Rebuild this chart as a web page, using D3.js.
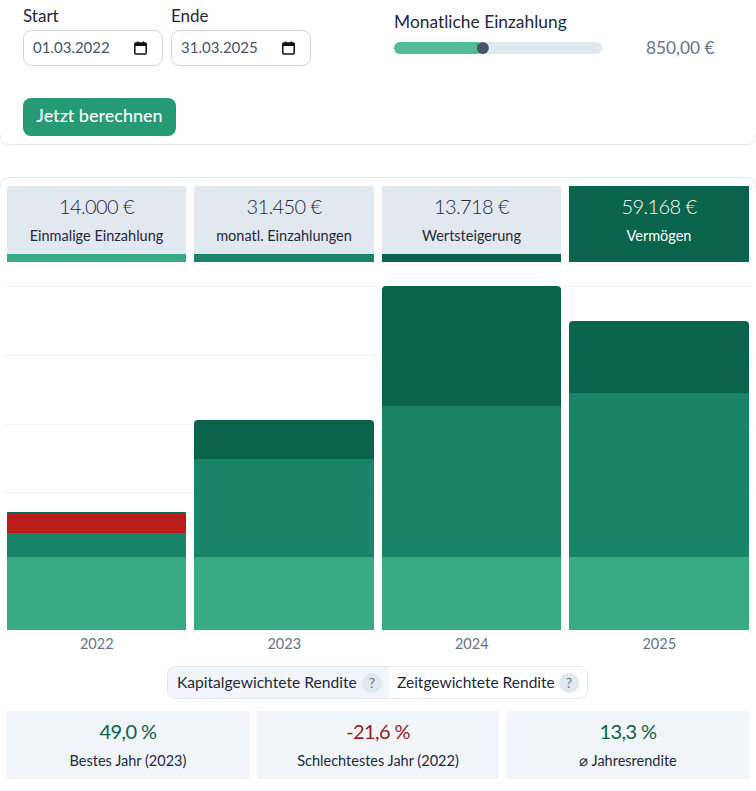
<!DOCTYPE html>
<html>
<head>
<meta charset="utf-8">
<script src="https://cdn.jsdelivr.net/npm/d3@7"></script>
<style>
    html, body { margin: 0; padding: 0; background: #fff; }
    svg { display: block; }
    text { font-family: Lato, sans-serif; fill: #1e293b; }
    .big { letter-spacing: -0.6px; }
</style>
</head>
<body>
<div id="chart"></div>
<script>
const years = ['2022', '2023', '2024', '2025']
const einmalig = [14000, 14000, 14000, 14000]
const monatlich = [4510, 18800, 28970, 31450]
const verlust = [3930, 0, 0, 0]
const wachstum = [190, 7470, 23020, 13718]
const gridValues = [13200, 26400, 39600, 52800, 66000]
const yMax = 66000

const summaryValues = ['14.000 €', '31.450 €', '13.718 €', '59.168 €']
const summaryLabels = ['Einmalige Einzahlung', 'monatl. Einzahlungen', 'Wertsteigerung', 'Vermögen']
const returnValues = ['49,0 %', '-21,6 %', '13,3 %']
const returnLabels = ['Bestes Jahr (2023)', 'Schlechtestes Jahr (2022)', '⌀ Jahresrendite']
const monthlyDeposit = 850
const monthlyDepositMax = 1990

const colors = { einmalig: '#38ab85', monatlich: '#198467', verlust: '#b91c1c', wachstum: '#0a634b' }
const w = 756
const h = 791

const svg = d3.select('#chart').append('svg')
    .attr('width', w)
    .attr('height', h)

const label = (x, y, str, size, fill, anchor, weight) => svg.append('text')
    .attr('x', x)
    .attr('y', y)
    .attr('font-size', size)
    .attr('text-anchor', anchor || 'start')
    .attr('font-weight', weight || 400)
    .style('fill', fill || '#1e293b')
    .text(str)

// outlines of the two panels
svg.append('path')
    .attr('d', 'M0,134 Q0,144.5 10,144.5 L746,144.5 Q755.5,144.5 755.5,134')
    .attr('fill', 'none')
    .attr('stroke', '#e2e8f0')
svg.append('path')
    .attr('d', 'M0,188 Q0,177.5 10,177.5 L746,177.5 Q755.5,177.5 755.5,188')
    .attr('fill', 'none')
    .attr('stroke', '#e2e8f0')

// date inputs
const dateInput = (x, title, value) => {
    label(x, 22, title, 17)
    svg.append('rect')
        .attr('x', x + 0.5).attr('y', 30.5)
        .attr('width', 139).attr('height', 35)
        .attr('rx', 8)
        .attr('fill', '#fff')
        .attr('stroke', '#cbd5e1')
    label(x + 10, 53, value, 15, '#475569')
    const icon = svg.append('g').attr('transform', 'translate(' + (x + 111) + ',41)')
    icon.append('rect').attr('x', 0.8).attr('y', 2).attr('width', 11.4).attr('height', 11)
        .attr('fill', 'none').attr('stroke', '#111').attr('stroke-width', 1.5).attr('rx', 1)
    icon.append('rect').attr('x', 0.8).attr('y', 2).attr('width', 11.4).attr('height', 3).attr('fill', '#111')
    icon.append('rect').attr('x', 3).attr('y', 0.5).attr('width', 1.5).attr('height', 2).attr('fill', '#111')
    icon.append('rect').attr('x', 8.5).attr('y', 0.5).attr('width', 1.5).attr('height', 2).attr('fill', '#111')
}
dateInput(23, 'Start', '01.03.2022')
dateInput(171, 'Ende', '31.03.2025')

svg.append('rect')
    .attr('x', 23).attr('y', 98)
    .attr('width', 153).attr('height', 38)
    .attr('rx', 8)
    .attr('fill', '#259a75')
label(99.5, 122, 'Jetzt berechnen', 18, '#fff', 'middle', 500)

// slider
const sliderScale = d3.scaleLinear()
    .domain([0, monthlyDepositMax])
    .range([394, 602])
label(394, 28, 'Monatliche Einzahlung', 17.4)
svg.append('rect')
    .attr('x', sliderScale(0)).attr('y', 42)
    .attr('width', sliderScale(monthlyDepositMax) - sliderScale(0)).attr('height', 12)
    .attr('rx', 6)
    .attr('fill', '#e2e8f0')
svg.append('rect')
    .attr('x', sliderScale(0)).attr('y', 42)
    .attr('width', sliderScale(monthlyDeposit) - sliderScale(0)).attr('height', 12)
    .attr('rx', 6)
    .attr('fill', '#55bb96')
svg.append('circle')
    .attr('cx', sliderScale(monthlyDeposit)).attr('cy', 48)
    .attr('r', 6)
    .attr('fill', '#475569')
label(646, 54, '850,00 €', 17.3, '#64748b')

// bars
const xScale = d3.scaleBand()
    .domain(years)
    .range([7, 749])
    .paddingInner(0.0427)

const yScale = d3.scaleLinear()
    .domain([0, yMax])
    .range([630, 286])

// whole pixels, the bars have no seams then
const left = yr => Math.floor(xScale(yr) + 0.01)
const right = yr => Math.floor(xScale(yr) + xScale.bandwidth() + 0.01)
const yPx = v => Math.floor(yScale(v))

// summary boxes on top of the bars use the same columns
years.forEach((yr, i) => {
    const x = left(yr)
    const bw = right(yr) - x
    const last = i === years.length - 1
    svg.append('rect')
        .attr('x', x).attr('y', 186)
        .attr('width', bw).attr('height', 68)
        .attr('fill', last ? colors.wachstum : '#e2e8f0')
    svg.append('rect')
        .attr('x', x).attr('y', 254)
        .attr('width', bw).attr('height', 8)
        .attr('fill', [colors.einmalig, colors.monatlich, colors.wachstum, colors.wachstum][i])
    label(x + bw / 2, 214, summaryValues[i], 20, last ? '#fff' : '#1e293b', 'middle', 300).attr('class', 'big')
    label(x + bw / 2, 241, summaryLabels[i], 14.5, last ? '#fff' : '#1e293b', 'middle')
})

svg.append('g')
    .selectAll('line')
    .data(gridValues)
    .enter()
    .append('line')
    .attr('x1', 3)
    .attr('x2', 753)
    .attr('y1', d => Math.round(yScale(d)) + 0.5)
    .attr('y2', d => Math.round(yScale(d)) + 0.5)
    .attr('stroke', '#f1f5f9')

const rows = years.map((yr, i) => ({
    year: yr,
    einmalig: einmalig[i],
    monatlich: monatlich[i],
    verlust: verlust[i],
    wachstum: wachstum[i]
}))
const series = d3.stack().keys(['einmalig', 'monatlich', 'verlust', 'wachstum'])(rows)

const segment = (d, isTop) => {
    const x0 = left(d.data.year)
    const x1 = right(d.data.year)
    const y0 = yPx(d[0])
    const y1 = yPx(d[1])
    const r = isTop ? Math.min(4, y0 - y1) : 0
    return 'M' + x0 + ',' + y0 + 'L' + x0 + ',' + (y1 + r) +
        'Q' + x0 + ',' + y1 + ',' + (x0 + r) + ',' + y1 +
        'L' + (x1 - r) + ',' + y1 +
        'Q' + x1 + ',' + y1 + ',' + x1 + ',' + (y1 + r) +
        'L' + x1 + ',' + y0 + 'Z'
}

svg.append('g')
    .selectAll('g')
    .data(series)
    .enter()
    .append('g')
    .attr('fill', s => colors[s.key])
    .selectAll('path')
    .data(s => s.map(d => Object.assign(d, { top: s.key === 'wachstum' })))
    .enter()
    .append('path')
    .attr('d', d => segment(d, d.top))

const xAxis = d3.axisBottom(xScale).tickSize(0).tickPadding(9)
svg.append('g')
    .attr('transform', 'translate(0,630)')
    .call(xAxis)
    .call(g => g.select('.domain').remove())
    .selectAll('text')
    .attr('font-size', 14.5)
    .style('font-family', 'Lato, sans-serif')
    .style('fill', '#64748b')

// toggle
svg.append('rect')
    .attr('x', 167.5).attr('y', 666.5)
    .attr('width', 420).attr('height', 32)
    .attr('rx', 8)
    .attr('fill', '#fff')
    .attr('stroke', '#e2e8f0')
svg.append('path')
    .attr('d', 'M389,667 L175.5,667 Q168,667 168,674.5 L168,690.5 Q168,698 175.5,698 L389,698 Z')
    .attr('fill', '#f1f5f9')
label(177, 688, 'Kapitalgewichtete Rendite', 15.6)
label(397, 688, 'Zeitgewichtete Rendite', 15.5)
;[372, 569].forEach(cx => {
    svg.append('circle').attr('cx', cx).attr('cy', 683).attr('r', 10).attr('fill', '#e2e8f0')
    label(cx, 688, '?', 14, '#64748b', 'middle')
})

// return boxes
const boxScale = d3.scaleBand()
    .domain(returnLabels)
    .range([7, 749])
    .paddingInner(0.032)
const returnColors = [colors.wachstum, '#991b1b', colors.wachstum]
returnLabels.forEach((name, i) => {
    const x = boxScale(name)
    const bw = boxScale.bandwidth()
    svg.append('rect')
        .attr('x', x).attr('y', 711)
        .attr('width', bw).attr('height', 68)
        .attr('fill', '#f1f5f9')
    label(x + bw / 2, 739, returnValues[i], 20, returnColors[i], 'middle').attr('class', 'big')
    label(x + bw / 2, 766, name, 14.5, '#1e293b', 'middle')
})
</script>
</body>
</html>
